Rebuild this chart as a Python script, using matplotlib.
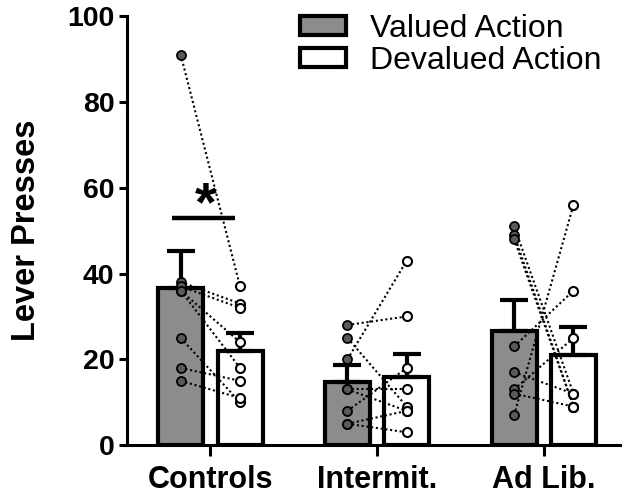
import matplotlib

matplotlib.use("Agg")
import matplotlib.pyplot as plt

plt.rcParams["font.family"] = ["Liberation Sans", "DejaVu Sans"]

groups = ["Controls", "Intermit.", "Ad Lib."]
series = ["Valued Action", "Devalued Action"]

# bar heights and upward SEM
valued_mean = [36.6, 14.7, 26.6]
valued_sem = [8.7, 3.9, 7.2]
devalued_mean = [21.9, 15.9, 21.0]
devalued_sem = [4.2, 5.3, 6.5]

# individual subjects, paired by index (valued -> devalued)
controls_valued = [91, 38, 37, 36, 36, 25, 18, 15]
controls_devalued = [37, 33, 32, 24, 18, 10, 15, 11]
intermit_valued = [28, 25, 20, 13, 13, 8, 5, 5]
intermit_devalued = [30, 9, 43, 13, 8, 18, 8, 3]
adlib_valued = [51, 49, 48, 23, 17, 13, 12, 7]
adlib_devalued = [12, 9, 9, 36, 12, 25, 9, 56]

valued_points = [controls_valued, intermit_valued, adlib_valued]
devalued_points = [controls_devalued, intermit_devalued, adlib_devalued]

sig_y = 53

offset = 0.178
width = 0.27
gray = "#8c8c8c"
dot_gray = "#5a5a5a"

fig = plt.figure(figsize=(6.3, 4.98), dpi=100)
ax = fig.add_axes([0.2016, 0.106, 0.782, 0.862])

x = list(range(len(groups)))
xv = [i - offset for i in x]
xd = [i + offset for i in x]

ax.bar(xv, valued_mean, width, color=gray, edgecolor="black", linewidth=3,
       label=series[0], zorder=2)
ax.bar(xd, devalued_mean, width, color="white", edgecolor="black", linewidth=3,
       label=series[1], zorder=2)

for xs, mean, sem in ((xv, valued_mean, valued_sem), (xd, devalued_mean, devalued_sem)):
    ax.errorbar(xs, mean, yerr=[[0] * len(mean), sem], fmt="none", ecolor="black",
                elinewidth=3, capsize=10, capthick=3, zorder=3)

for i in x:
    for a, b in zip(valued_points[i], devalued_points[i]):
        ax.plot([xv[i], xd[i]], [a, b], color="black", linestyle=(0, (1, 1.3)),
                linewidth=1.5, zorder=4)
    ax.plot([xv[i]] * len(valued_points[i]), valued_points[i], "o", color=dot_gray,
            markeredgecolor="black", markeredgewidth=1.3, markersize=6.5,
            linestyle="none", zorder=5)
    ax.plot([xd[i]] * len(devalued_points[i]), devalued_points[i], "o", color="white",
            markeredgecolor="black", markeredgewidth=1.5, markersize=6.5,
            linestyle="none", zorder=5)

# significance marker for Controls
ax.plot([-0.228, 0.15], [sig_y, sig_y], color="black", linewidth=3.2,
        solid_capstyle="butt", zorder=3)
ax.text(-0.03, sig_y - 3.3, "*", ha="center", va="bottom", fontsize=40,
        fontweight="bold")

ax.set_xlim(-0.5, 2.455)
ax.set_ylim(0, 100)
ax.set_yticks([0, 20, 40, 60, 80, 100])
ax.set_xticks(x)
ax.set_xticklabels(groups)
ax.set_ylabel("Lever Presses", fontsize=23.5, fontweight="bold", labelpad=18)

for side in ("top", "right"):
    ax.spines[side].set_visible(False)
for side in ("left", "bottom"):
    ax.spines[side].set_linewidth(2.2)
ax.tick_params(axis="y", length=6, width=2.2, labelsize=20.5, pad=3)
ax.tick_params(axis="x", length=8, width=2.2, labelsize=22, pad=6)
for lab in ax.get_xticklabels() + ax.get_yticklabels():
    lab.set_fontweight("bold")

leg = ax.legend(loc="upper left", bbox_to_anchor=(0.325, 1.035), frameon=False,
                fontsize=23, handlelength=1.45, handleheight=0.54,
                handletextpad=0.75, labelspacing=0.08, borderaxespad=0)
for patch in leg.get_patches():
    patch.set_linewidth(3)

fig.savefig("out.png", dpi=100)
